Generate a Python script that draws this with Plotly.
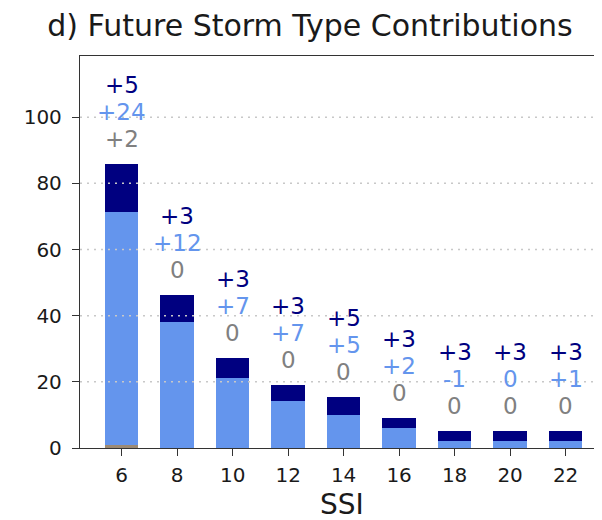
import plotly.graph_objects as go

ssi = [6, 8, 10, 12, 14, 16, 18, 20, 22]
# stacked bar components (bottom -> top)
other_vals = [1.0, 0, 0, 0, 0, 0, 0, 0, 0]
blue_vals = [70.3, 38.2, 21.1, 14.2, 9.9, 6.1, 2.0, 2.0, 2.0]
navy_vals = [14.5, 8.0, 6.1, 4.7, 5.6, 2.9, 3.2, 3.2, 3.2]
# change labels above bars
navy_labels = ["+5", "+3", "+3", "+3", "+5", "+3", "+3", "+3", "+3"]
blue_labels = ["+24", "+12", "+7", "+7", "+5", "+2", "-1", "0", "+1"]
other_labels = ["+2", "0", "0", "0", "0", "0", "0", "0", "0"]
y_ticks = [0, 20, 40, 60, 80, 100]

NAVY = "#000080"
BLUE = "#6495ED"
OTHER = "#9c8a74"
GRAYTXT = "#808080"
FONT = "DejaVu Sans"
TXT = "#1a1a1a"

fig = go.Figure()
for vals, col in [(other_vals, OTHER), (blue_vals, BLUE), (navy_vals, NAVY)]:
    fig.add_trace(go.Bar(x=ssi, y=vals, width=1.2, marker=dict(color=col, line=dict(width=0)),
                         showlegend=False, hoverinfo="skip"))

totals = [a + b + c for a, b, c in zip(other_vals, blue_vals, navy_vals)]
for x, t, l1, l2, l3 in zip(ssi, totals, navy_labels, blue_labels, other_labels):
    for txt, col, sh in [(l3, GRAYTXT, 25), (l2, BLUE, 52), (l1, NAVY, 79)]:
        fig.add_annotation(x=x, y=t, text=txt, showarrow=False, xanchor="center", yanchor="middle",
                           yshift=sh, font=dict(family=FONT, size=23, color=col))

# dotted horizontal grid drawn above the bars
for yv in y_ticks[1:]:
    fig.add_shape(type="line", xref="paper", x0=0, x1=1, yref="y", y0=yv, y1=yv,
                  line=dict(color="#c8c8c8", width=1.5, dash="2px,5px"), layer="above")

# x-axis title
fig.add_annotation(text="SSI", xref="paper", yref="paper", x=0.494, y=-56 / 392, xanchor="center",
                   yanchor="middle", showarrow=False, font=dict(family=FONT, size=28, color=TXT))

fig.update_layout(
    width=602, height=520,
    margin=dict(l=72, r=0, t=48, b=80, autoexpand=False),
    paper_bgcolor="white", plot_bgcolor="white",
    barmode="stack", bargap=0,
    font=dict(family=FONT, color=TXT),
    title=dict(text="d) Future Storm Type Contributions", x=302 / 602, xref="container", xanchor="center",
               y=1 - 17 / 520, yref="container", yanchor="middle",
               font=dict(family=FONT, size=30, color=TXT)),
)
fig.update_xaxes(range=[4.5, 23.6], tickvals=ssi, ticks="outside", ticklen=7, tickwidth=1.3,
                 tickcolor="#333", showline=True, linecolor="#333", linewidth=1.3, mirror=True,
                 showgrid=False, zeroline=False, tickfont=dict(size=20, color=TXT),
                 automargin=False, ticklabelstandoff=2)
fig.update_yaxes(range=[0, 118.5], tickvals=y_ticks, ticks="outside", ticklen=7, tickwidth=1.3,
                 tickcolor="#333", showline=True, linecolor="#333", linewidth=1.3, mirror=False,
                 showgrid=False, zeroline=False, tickfont=dict(size=20, color=TXT),
                 automargin=False, ticklabelstandoff=6)

fig.write_html("out.html")
